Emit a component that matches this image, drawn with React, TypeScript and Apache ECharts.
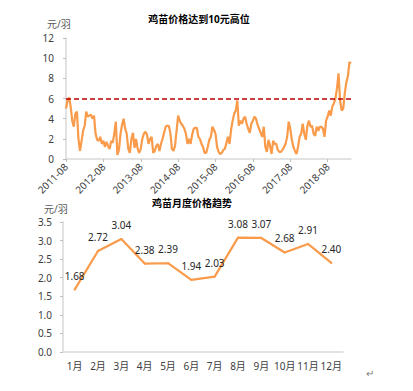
import React, { useEffect, useRef } from 'react';
import * as echarts from 'echarts';

// ---- data ----
const startYear = 2011;
const startMonth = 8; // half-month observations starting 2011-08
const weeklyPrice: number[] = [
  5.0, 5.8, 6.1, 5.2, 3.8, 3.2, 4.5, 4.7, 2.0, 0.8, 1.8, 2.8, 3.3, 4.7, 4.2, 4.3, 4.4, 4.0, 4.3, 2.5,
  1.9, 1.8, 2.2, 1.5, 1.8, 1.2, 1.7, 1.3, 1.0, 1.8, 1.6, 2.5, 3.7, 0.4, 0.9, 2.5, 3.4, 4.0, 3.0, 2.5,
  1.0, 0.6, 2.0, 2.6, 1.1, 2.0, 1.0, 0.6, 1.0, 2.0, 2.5, 2.7, 2.4, 1.5, 2.0, 2.2, 0.6, 0.8, 1.3, 1.5,
  0.8, 1.5, 2.0, 2.6, 3.2, 3.3, 3.3, 2.6, 1.0, 0.8, 1.3, 2.8, 4.3, 3.8, 3.5, 3.3, 3.0, 2.5, 1.5, 2.0,
  1.5, 2.4, 3.0, 3.1, 3.1, 2.2, 2.0, 1.5, 1.2, 0.6, 0.6, 1.2, 1.9, 2.2, 3.2, 2.9, 2.5, 1.2, 0.7, 0.5,
  0.6, 0.9, 1.0, 1.6, 2.2, 1.5, 2.9, 3.8, 4.5, 4.8, 5.8, 3.3, 3.8, 3.5, 4.0, 4.2, 3.5, 3.0, 2.6, 3.5,
  3.8, 4.2, 4.0, 3.4, 3.0, 2.6, 2.2, 3.2, 1.2, 0.7, 1.9, 1.3, 0.5, 1.8, 1.5, 1.5, 0.9, 0.7, 0.7, 0.9,
  1.2, 1.5, 2.2, 3.7, 3.0, 1.9, 1.2, 0.8, 0.5, 1.2, 2.2, 2.5, 3.5, 2.5, 1.9, 3.3, 3.8, 3.2, 3.3, 2.5,
  2.3, 3.2, 2.8, 3.2, 3.2, 3.0, 2.2, 3.8, 4.2, 4.8, 4.3, 5.2, 5.5, 6.0, 7.0, 8.5, 5.8, 4.8, 5.0, 6.5,
  7.6, 8.2, 9.6, 9.5,
];
const thresholdPrice = 6;

const months = ['1月', '2月', '3月', '4月', '5月', '6月', '7月', '8月', '9月', '10月', '11月', '12月'];
const monthlyPrice = [1.68, 2.72, 3.04, 2.38, 2.39, 1.94, 2.03, 3.08, 3.07, 2.68, 2.91, 2.4];

const halfMonthDates = weeklyPrice.map((_, i) => {
  const m = startMonth - 1 + Math.floor(i / 2);
  const y = startYear + Math.floor(m / 12);
  const mm = String((m % 12) + 1).padStart(2, '0');
  return `${y}-${mm}-${i % 2 === 0 ? '01' : '16'}`;
});

const ORANGE = '#F99B4A';
const FONT = '"Noto Sans", "Noto Sans CJK SC", sans-serif';
const AXIS_GRAY = '#D9D9D9';
const TEXT = '#404040';

export default function App() {
  const ref = useRef<HTMLDivElement>(null);
  useEffect(() => {
    document.body.style.margin = '0';
    const chart = echarts.init(ref.current!, null, { renderer: 'svg' });
    const showAug = (idx: number) => idx % 24 === 0;
    chart.setOption({
      animation: false,
      textStyle: { fontFamily: FONT },
      grid: [
        { left: 66, top: 38, width: 285, height: 121 },
        { left: 63, top: 222, width: 280, height: 130 },
      ],
      xAxis: [
        {
          gridIndex: 0,
          type: 'category',
          data: halfMonthDates,
          boundaryGap: false,
          axisLine: { lineStyle: { color: AXIS_GRAY, width: 1.5 } },
          axisTick: { interval: showAug, length: 3, lineStyle: { color: '#BFBFBF' } },
          axisLabel: {
            interval: showAug,
            rotate: 45,
            margin: 6,
            fontSize: 10,
            color: TEXT,
            fontFamily: FONT,
            formatter: (v: string) => v.slice(0, 7),
          },
        },
        {
          gridIndex: 1,
          type: 'category',
          data: months,
          boundaryGap: true,
          axisLine: { lineStyle: { color: AXIS_GRAY, width: 1.5 } },
          axisTick: { interval: 0, length: 4, lineStyle: { color: '#BFBFBF' } },
          axisLabel: { interval: 0, margin: 9, fontSize: 10, color: TEXT, fontFamily: FONT },
        },
      ],
      yAxis: [
        {
          gridIndex: 0,
          type: 'value',
          min: 0,
          max: 12,
          interval: 2,
          splitLine: { show: false },
          axisLine: { show: true, lineStyle: { color: AXIS_GRAY, width: 1.5 } },
          axisTick: { show: true, length: 3, lineStyle: { color: '#BFBFBF' } },
          axisLabel: { margin: 12, fontSize: 10, color: TEXT, fontFamily: FONT },
        },
        {
          gridIndex: 1,
          type: 'value',
          min: 0,
          max: 3.5,
          interval: 0.5,
          splitLine: { show: false },
          axisLine: { show: true, lineStyle: { color: AXIS_GRAY, width: 1.5 } },
          axisTick: { show: true, length: 3, lineStyle: { color: '#BFBFBF' } },
          axisLabel: {
            margin: 11,
            fontSize: 10,
            color: TEXT,
            fontFamily: FONT,
            formatter: (v: number) => v.toFixed(1),
          },
        },
      ],
      series: [
        {
          type: 'line',
          xAxisIndex: 0,
          yAxisIndex: 0,
          data: weeklyPrice,
          showSymbol: false,
          lineStyle: { color: ORANGE, width: 2.2 },
          markLine: {
            silent: true,
            symbol: 'none',
            label: { show: false },
            lineStyle: { color: '#C00000', type: [5, 3], width: 1.5 },
            data: [{ yAxis: thresholdPrice }],
          },
        },
        {
          type: 'line',
          xAxisIndex: 1,
          yAxisIndex: 1,
          data: monthlyPrice,
          showSymbol: true,
          showAllSymbol: true,
          symbol: 'circle',
          symbolSize: 2,
          itemStyle: { color: ORANGE },
          lineStyle: { color: ORANGE, width: 2.2 },
          label: {
            show: true,
            position: 'top',
            distance: 8,
            fontSize: 10,
            color: '#262626',
            fontFamily: FONT,
            formatter: (p: any) => Number(p.value).toFixed(2),
          },
        },
      ],
      graphic: [
        {
          type: 'text',
          x: 199,
          y: 19,
          style: {
            text: '鸡苗价格达到10元高位',
            fontSize: 10,
            fontWeight: 'bold',
            fill: '#000',
            fontFamily: FONT,
            align: 'center',
            verticalAlign: 'middle',
          },
        },
        {
          type: 'text',
          x: 47,
          y: 24,
          style: { text: '元/羽', fontSize: 10, fill: '#595959', fontFamily: FONT, verticalAlign: 'middle' },
        },
        {
          type: 'text',
          x: 192,
          y: 203,
          style: {
            text: '鸡苗月度价格趋势',
            fontSize: 10,
            fontWeight: 'bold',
            fill: '#000',
            fontFamily: FONT,
            align: 'center',
            verticalAlign: 'middle',
          },
        },
        {
          type: 'text',
          x: 44,
          y: 209,
          style: { text: '元/羽', fontSize: 10, fill: '#595959', fontFamily: FONT, verticalAlign: 'middle' },
        },
        {
          type: 'text',
          x: 366,
          y: 373,
          style: { text: '↵', fontSize: 10, fill: '#7F7F7F', fontFamily: FONT, verticalAlign: 'middle' },
        },
      ],
    });
    return () => chart.dispose();
  }, []);
  return <div ref={ref} style={{ width: 413, height: 391 }} />;
}
